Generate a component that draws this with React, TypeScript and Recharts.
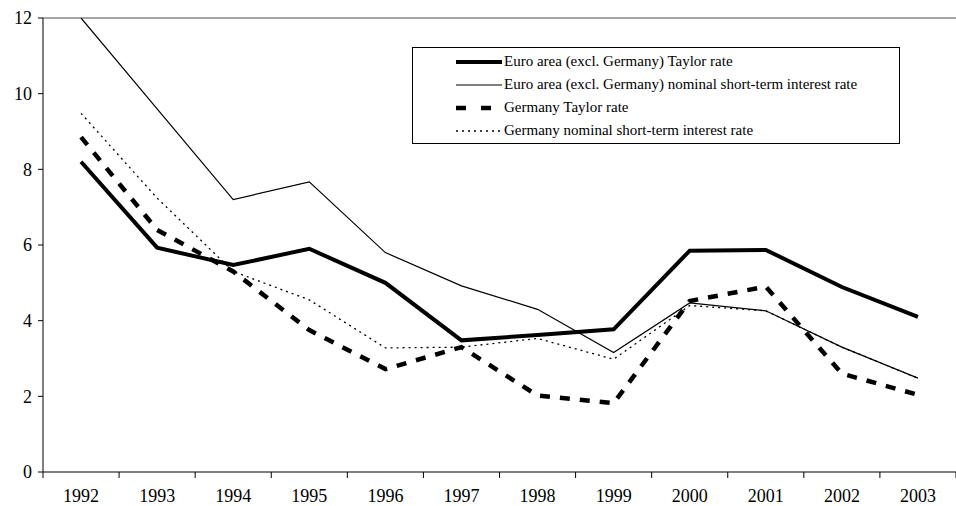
import { LineChart, Line, XAxis, YAxis, ReferenceLine } from 'recharts';

const years = ['1992', '1993', '1994', '1995', '1996', '1997', '1998', '1999', '2000', '2001', '2002', '2003'];
const euroTaylor = [8.2, 5.93, 5.47, 5.9, 5.0, 3.48, 3.62, 3.77, 5.85, 5.87, 4.89, 4.1];
const euroNominal = [12.0, 9.6, 7.2, 7.67, 5.8, 4.92, 4.3, 3.16, 4.47, 4.26, 3.3, 2.48];
const germanyTaylor = [8.85, 6.4, 5.3, 3.75, 2.72, 3.3, 2.02, 1.82, 4.52, 4.9, 2.6, 2.04];
const germanyNominal = [9.48, 7.24, 5.3, 4.55, 3.28, 3.3, 3.53, 2.98, 4.4, 4.26, 3.3, 2.48];
const yTicks = [0, 2, 4, 6, 8, 10, 12];

const WIDTH = 956;
const HEIGHT = 506;
const MARGIN = { top: 18, right: 0, bottom: 0, left: 0 };
const Y_AXIS_W = 43;
const X_AXIS_H = 34;
const PLOT_BOTTOM = HEIGHT - X_AXIS_H;
const BAND = (WIDTH - Y_AXIS_W) / years.length;
const FONT = "'Liberation Serif', 'Times New Roman', Times, serif";

const data = years.map((year, i) => ({
  year,
  euroTaylor: euroTaylor[i],
  euroNominal: euroNominal[i],
  germanyTaylor: germanyTaylor[i],
  germanyNominal: germanyNominal[i],
}));

const series = [
  { key: 'euroTaylor', name: 'Euro area (excl. Germany) Taylor rate', width: 4, dash: undefined, legendDash: undefined },
  { key: 'euroNominal', name: 'Euro area (excl. Germany) nominal short-term interest rate', width: 1.2, dash: undefined, legendDash: undefined },
  { key: 'germanyTaylor', name: 'Germany Taylor rate', width: 4.5, dash: '10 10', legendDash: '10 15' },
  { key: 'germanyNominal', name: 'Germany nominal short-term interest rate', width: 1.3, dash: '2 4', legendDash: '2 4' },
];

const YearTick = (props: any) => {
  const { x, payload, index } = props;
  const left = x - BAND / 2;
  return (
    <g>
      <line x1={left} x2={left} y1={PLOT_BOTTOM} y2={PLOT_BOTTOM + 6} stroke="#000" />
      {index === years.length - 1 && (
        <line x1={left + BAND} x2={left + BAND} y1={PLOT_BOTTOM} y2={PLOT_BOTTOM + 6} stroke="#000" />
      )}
      <text x={x} y={PLOT_BOTTOM + 30} textAnchor="middle" fontSize={18} fontFamily={FONT} fill="#000">
        {payload.value}
      </text>
    </g>
  );
};

const LegendBox = () => (
  <div
    style={{
      position: 'absolute',
      left: 412,
      top: 47,
      border: '1px solid #000',
      width: 488,
      height: 97,
      boxSizing: 'border-box',
      background: '#fff',
      fontFamily: FONT,
      fontSize: 15,
      paddingTop: 2,
    }}
  >
    {series.map((s) => (
      <div key={s.key} style={{ display: 'flex', alignItems: 'center', height: 23 }}>
        <svg width={90} height={10} style={{ marginRight: 1 }}>
          <line x1={43} x2={89} y1={5} y2={5} stroke="#000" strokeWidth={s.width} strokeDasharray={s.legendDash} />
        </svg>
        <span>{s.name}</span>
      </div>
    ))}
  </div>
);

export default function App() {
  return (
    <div style={{ position: 'absolute', left: 0, top: 0, width: WIDTH, height: HEIGHT, background: '#fff' }}>
      <LineChart width={WIDTH} height={HEIGHT} data={data} margin={MARGIN}>
        <XAxis
          dataKey="year"
          height={X_AXIS_H}
          axisLine={{ stroke: '#000' }}
          tickLine={false}
          tick={<YearTick />}
          interval={0}
          padding={{ left: BAND / 2, right: BAND / 2 }}
        />
        <YAxis
          width={Y_AXIS_W}
          domain={[0, 12]}
          ticks={yTicks}
          allowDataOverflow
          axisLine={{ stroke: '#000' }}
          tickLine={{ stroke: '#000' }}
          tickSize={5}
          tickMargin={6}
          tick={{ fill: '#000', fontSize: 18, fontFamily: FONT }}
        />
        <ReferenceLine y={12} stroke="#888" strokeWidth={1.5} />
        {series.map((s) => (
          <Line
            key={s.key}
            type="linear"
            dataKey={s.key}
            name={s.name}
            stroke="#000"
            strokeWidth={s.width}
            strokeDasharray={s.dash}
            dot={false}
            activeDot={false}
            isAnimationActive={false}
          />
        ))}
      </LineChart>
      <LegendBox />
    </div>
  );
}
